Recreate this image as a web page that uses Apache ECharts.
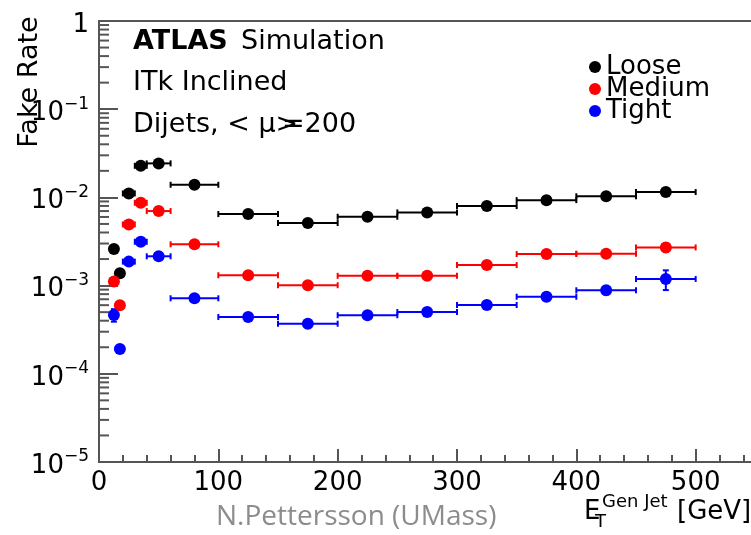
<!DOCTYPE html>
<html>
<head>
<meta charset="utf-8">
<script src="https://cdn.jsdelivr.net/npm/echarts@6/dist/echarts.min.js"></script>
<style>
  html, body { margin: 0; padding: 0; background: #fff; }
  #chart { width: 751px; height: 535px; }
</style>
</head>
<body>
<div id="chart"></div>
<script>
// Jet E_T bins (GeV)
const binCenter = [12.5, 17.5, 25, 35, 50, 80, 125, 175, 225, 275, 325, 375, 425, 475];
const binLow    = [10, 15, 20, 30, 40, 60, 100, 150, 200, 250, 300, 350, 400, 450];
const binHigh   = [15, 20, 30, 40, 60, 100, 150, 200, 250, 300, 350, 400, 450, 500];

// Fake rate per working point
const looseRate  = [2.60e-3, 1.38e-3, 1.11e-2, 2.28e-2, 2.43e-2, 1.39e-2, 6.47e-3, 5.12e-3, 6.03e-3, 6.76e-3, 7.97e-3, 9.31e-3, 1.03e-2, 1.15e-2];
const mediumRate = [1.11e-3, 5.98e-4, 4.94e-3, 8.69e-3, 7.00e-3, 2.94e-3, 1.31e-3, 1.01e-3, 1.29e-3, 1.29e-3, 1.71e-3, 2.28e-3, 2.30e-3, 2.71e-3];
const tightRate  = [4.65e-4, 1.91e-4, 1.87e-3, 3.14e-3, 2.15e-3, 7.18e-4, 4.41e-4, 3.70e-4, 4.61e-4, 5.02e-4, 6.03e-4, 7.48e-4, 8.85e-4, 1.19e-3];

// Statistical uncertainties
const looseErr  = [1.5e-4, 8.0e-5, 4.0e-4, 6.0e-4, 6.0e-4, 3.0e-4, 1.5e-4, 1.2e-4, 1.3e-4, 1.4e-4, 1.6e-4, 2.0e-4, 2.3e-4, 3.0e-4];
const mediumErr = [8.0e-5, 4.0e-5, 2.5e-4, 4.0e-4, 4.0e-4, 1.5e-4, 8.0e-5, 7.0e-5, 8.0e-5, 8.0e-5, 1.0e-4, 1.4e-4, 1.5e-4, 2.8e-4];
const tightErr  = [7.5e-5, 1.5e-5, 1.0e-4, 2.0e-4, 1.5e-4, 6.0e-5, 4.0e-5, 3.5e-5, 4.0e-5, 4.5e-5, 5.5e-5, 7.0e-5, 9.0e-5, 3.0e-4];

const seriesNames  = ['Loose', 'Medium', 'Tight'];
const seriesColors = ['#000000', '#ff0000', '#0000ff'];
const yTickValues  = [1, 1e-1, 1e-2, 1e-3, 1e-4, 1e-5];

const FONT = 'DejaVu Sans';
const AXIS_COLOR = '#555555';

// minor log ticks 2..9 in each decade
const yMinorTicks = [];
for (let e = -5; e < 0; e++) {
  for (let m = 2; m <= 9; m++) yMinorTicks.push([0, m * Math.pow(10, e)]);
}

function errorData(rate, err) {
  return rate.map((r, i) => [binLow[i], binHigh[i], r, r - err[i], r + err[i], binCenter[i]]);
}

function errorBarRenderer(color) {
  return function (params, api) {
    const xl = api.value(0), xh = api.value(1), y = api.value(2);
    const yl = api.value(3), yh = api.value(4), xc = api.value(5);
    const pL = api.coord([xl, y]);
    const pH = api.coord([xh, y]);
    const pYl = api.coord([xc, yl]);
    const pYh = api.coord([xc, yh]);
    const cap = 3;
    const style = { stroke: color, lineWidth: 2 };
    const line = (x1, y1, x2, y2) => ({ type: 'line', shape: { x1, y1, x2, y2 }, style });
    return {
      type: 'group',
      children: [
        line(pL[0], pL[1], pH[0], pH[1]),
        line(pL[0], pL[1] - cap, pL[0], pL[1] + cap),
        line(pH[0], pH[1] - cap, pH[0], pH[1] + cap),
        line(pYl[0], pYl[1], pYh[0], pYh[1]),
        line(pYl[0] - cap, pYl[1], pYl[0] + cap, pYl[1]),
        line(pYh[0] - cap, pYh[1], pYh[0] + cap, pYh[1])
      ]
    };
  };
}

const rates = [looseRate, mediumRate, tightRate];
const errs = [looseErr, mediumErr, tightErr];

const series = [];
rates.forEach((rate, k) => {
  series.push({
    name: seriesNames[k] + ' unc.',
    type: 'custom',
    renderItem: errorBarRenderer(seriesColors[k]),
    encode: { x: [0, 1, 5], y: [2, 3, 4] },
    data: errorData(rate, errs[k]),
    z: 2,
    silent: true
  });
});
rates.forEach((rate, k) => {
  series.push({
    name: seriesNames[k],
    type: 'scatter',
    symbol: 'circle',
    symbolSize: 12,
    itemStyle: { color: seriesColors[k], opacity: 1 },
    data: rate.map((r, i) => [binCenter[i], r]),
    z: 5
  });
});
series.push({
  name: 'minor ticks',
  type: 'custom',
  silent: true,
  clip: false,
  renderItem: function (params, api) {
    const p = api.coord([api.value(0), api.value(1)]);
    return {
      type: 'line',
      shape: { x1: p[0], y1: p[1], x2: p[0] + 10, y2: p[1] },
      style: { stroke: AXIS_COLOR, lineWidth: 2 }
    };
  },
  data: yMinorTicks,
  z: 1
});

// "Dijets, < μ>=200" label: the '=' is set partly over the closing bracket
const measureCtx = document.createElement('canvas').getContext('2d');
measureCtx.font = '27px "DejaVu Sans"';
const dijetsHead = 'Dijets, < μ>';
const dijetsTail = '=200';
const headWidth = measureCtx.measureText(dijetsHead).width;
const bracketWidth = measureCtx.measureText('>').width;

const chart = echarts.init(document.getElementById('chart'));
chart.setOption({
  animation: false,
  backgroundColor: '#ffffff',
  textStyle: { fontFamily: FONT },
  grid: {
    left: 99, top: 21, width: 716, height: 441,
    show: true, borderColor: AXIS_COLOR, borderWidth: 2,
    backgroundColor: 'transparent',
    outerBoundsMode: 'none',
    containLabel: false
  },
  legend: {
    data: seriesNames,
    orient: 'vertical',
    left: 584, top: 49,
    icon: 'circle',
    itemWidth: 12, itemHeight: 12,
    itemGap: -4,
    textStyle: { fontFamily: FONT, fontSize: 26, color: '#000', lineHeight: 21 }
  },
  xAxis: {
    type: 'value',
    min: 0, max: 600, interval: 100,
    axisLine: { show: true, lineStyle: { color: AXIS_COLOR, width: 2 } },
    axisTick: { show: true, inside: true, length: 13, lineStyle: { color: AXIS_COLOR, width: 2 } },
    minorTick: { show: true, splitNumber: 5, length: 7, lineStyle: { color: AXIS_COLOR, width: 2 } },
    splitLine: { show: false },
    axisLabel: { fontFamily: FONT, fontSize: 26, color: '#000', margin: 8 }
  },
  yAxis: {
    type: 'log',
    logBase: 10,
    min: 1e-5, max: 1,
    splitNumber: 5,
    axisLine: { show: true, lineStyle: { color: AXIS_COLOR, width: 2 } },
    axisTick: { show: true, inside: true, length: 19, lineStyle: { color: AXIS_COLOR, width: 2 } },
    splitLine: { show: false },
    axisLabel: {
      margin: 10,
      formatter: function (v) {
        const e = Math.round(Math.log10(v));
        if (yTickValues.indexOf(Math.pow(10, e)) < 0) return '';
        return e === 0 ? '{b|1}' : '{b|10}{s|−' + (-e) + '}';
      },
      rich: {
        b: { fontFamily: FONT, fontSize: 26, color: '#000', lineHeight: 28, padding: [8, 0, 0, 0] },
        s: { fontFamily: FONT, fontSize: 17, color: '#000', padding: [0, 0, 10, 0] }
      }
    }
  },
  graphic: [
    { type: 'text', left: 133, top: 28, style: { text: 'ATLAS', font: 'bold 27px "DejaVu Sans"', fill: '#000' } },
    { type: 'text', left: 241, top: 28, style: { text: 'Simulation', font: '27px "DejaVu Sans"', fill: '#000' } },
    { type: 'text', left: 133, top: 69, style: { text: 'ITk Inclined', font: '27px "DejaVu Sans"', fill: '#000' } },
    { type: 'text', left: 133, top: 111, style: { text: dijetsHead, font: '27px "DejaVu Sans"', fill: '#000' } },
    { type: 'text', left: Math.round(133 + headWidth - bracketWidth + 6), top: 111,
      style: { text: dijetsTail, font: '27px "DejaVu Sans"', fill: '#000' } },
    { type: 'text', x: 30, y: 82, rotation: Math.PI / 2,
      style: { text: 'Fake Rate', font: '27px "DejaVu Sans"', fill: '#000', align: 'center', verticalAlign: 'middle' } },
    { type: 'text', left: 584, top: 499, style: { text: 'E', font: '26px "DejaVu Sans"', fill: '#000' } },
    { type: 'text', left: 595, top: 513, style: { text: 'T', font: '18px "DejaVu Sans"', fill: '#000' } },
    { type: 'text', left: 602, top: 493, style: { text: 'Gen Jet', font: '18px "DejaVu Sans"', fill: '#000' } },
    { type: 'text', left: 677, top: 499, style: { text: '[GeV]', font: '26px "DejaVu Sans"', fill: '#000' } },
    { type: 'text', left: 216, top: 503, style: { text: 'N.Pettersson (UMass)', font: '28px "Open Sans"', fill: '#8c8c8c' } }
  ],
  series: series
});
</script>
</body>
</html>
